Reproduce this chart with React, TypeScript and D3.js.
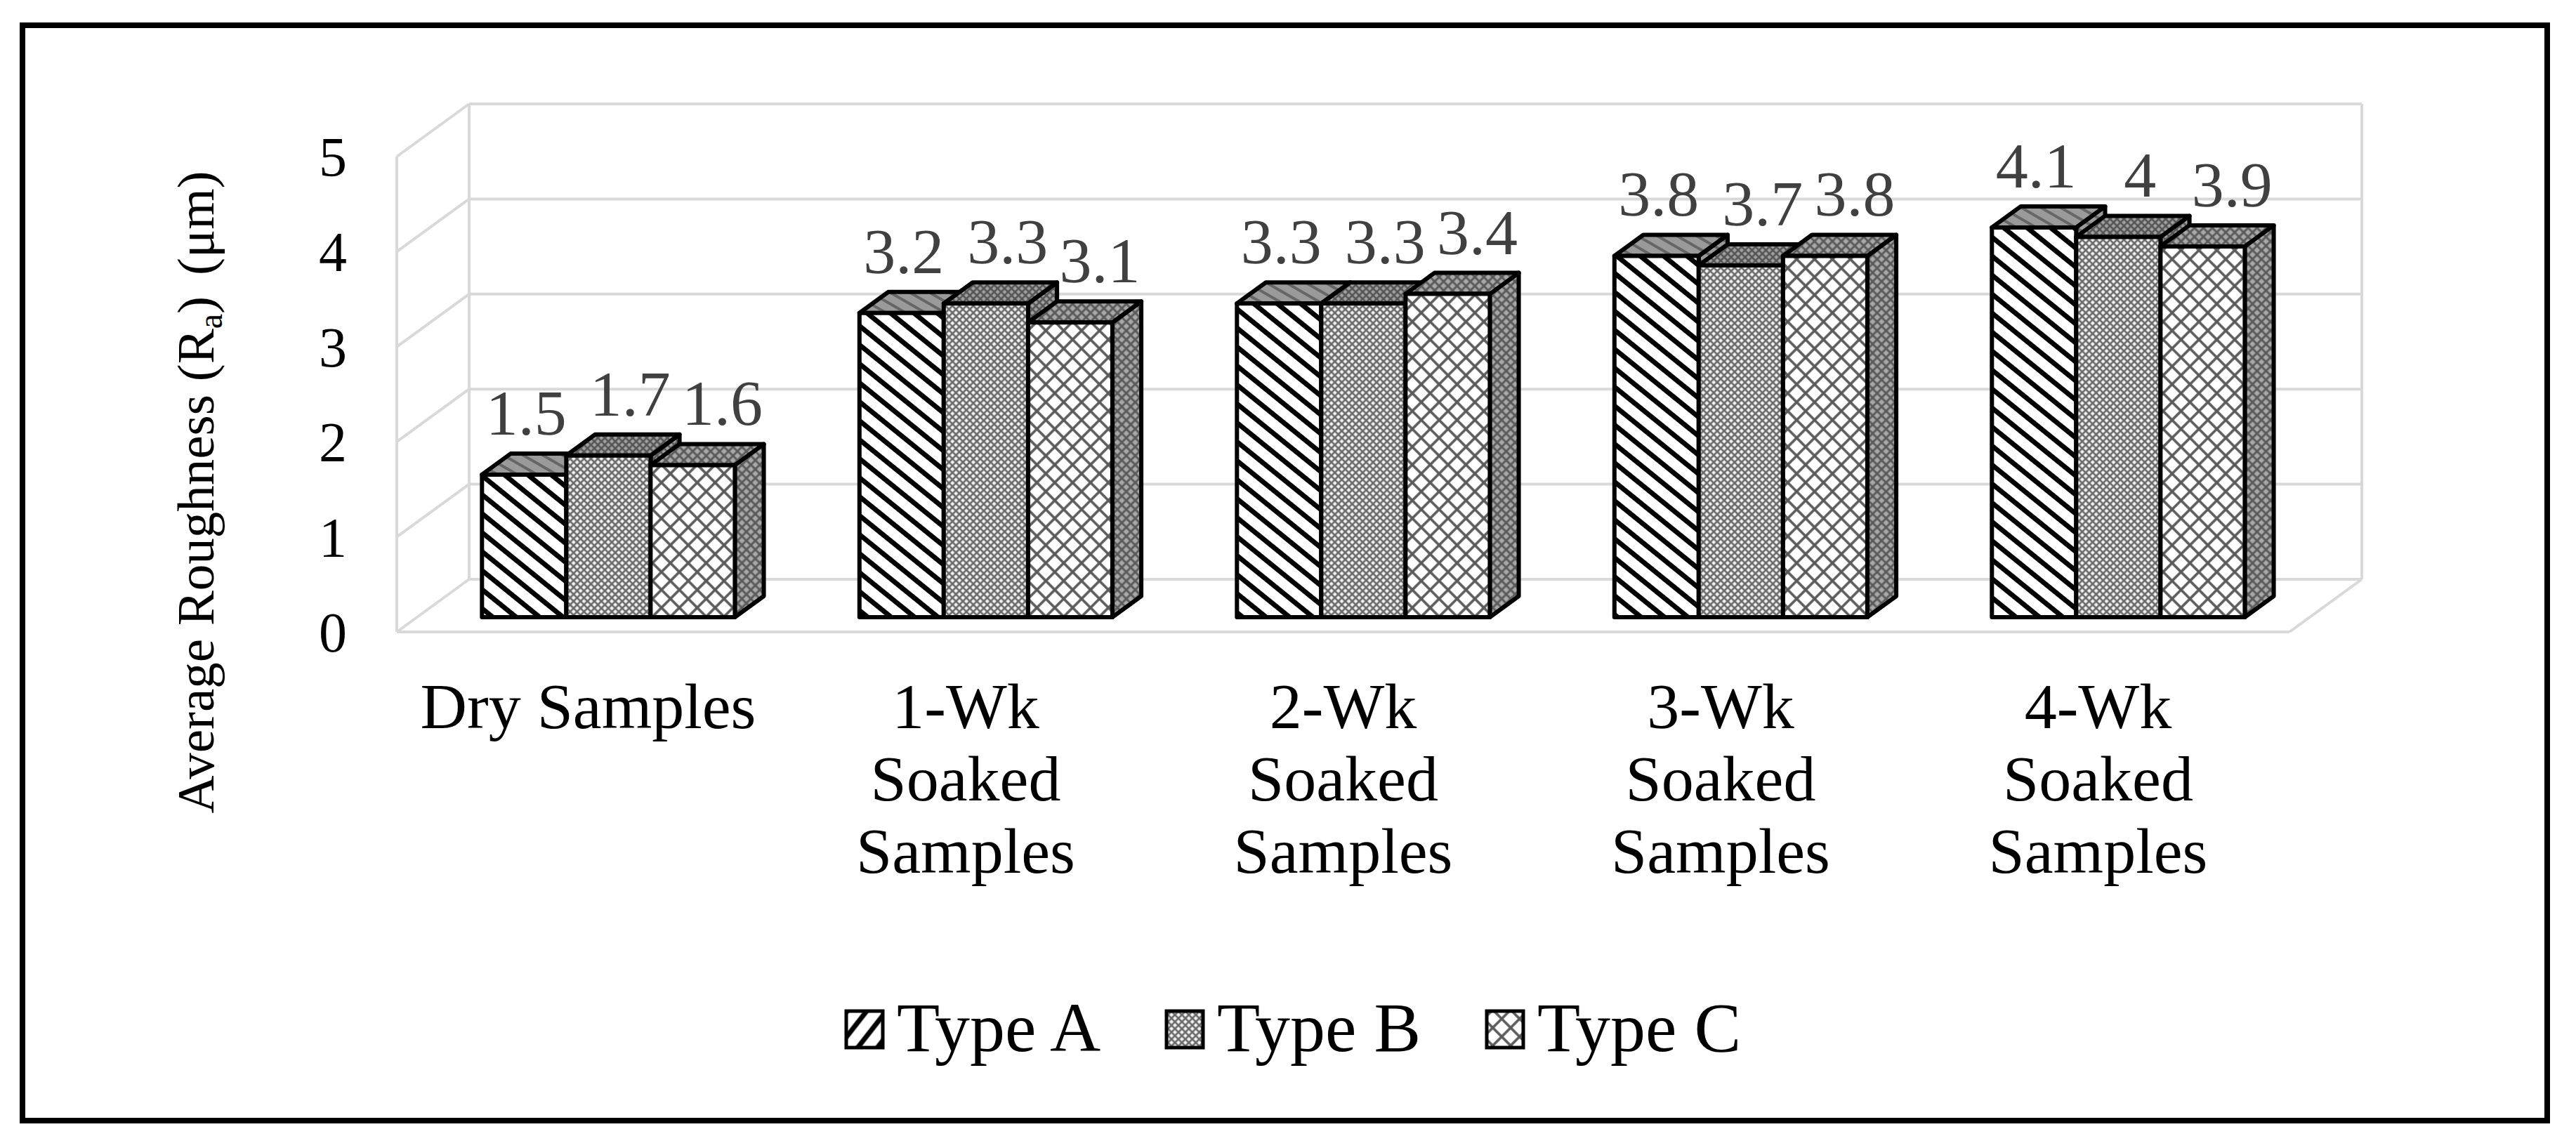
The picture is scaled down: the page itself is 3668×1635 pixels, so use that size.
import React from "react";
import * as d3 from "d3";

// ---------- data ----------
const categories = [
  "Dry Samples",
  "1-Wk Soaked Samples",
  "2-Wk Soaked Samples",
  "3-Wk Soaked Samples",
  "4-Wk Soaked Samples",
];
const categoryLines = [
  ["Dry Samples"],
  ["1-Wk", "Soaked", "Samples"],
  ["2-Wk", "Soaked", "Samples"],
  ["3-Wk", "Soaked", "Samples"],
  ["4-Wk", "Soaked", "Samples"],
];
const seriesNames = ["Type A", "Type B", "Type C"];
const typeA = [1.5, 3.2, 3.3, 3.8, 4.1];
const typeB = [1.7, 3.3, 3.3, 3.7, 4.0];
const typeC = [1.6, 3.1, 3.4, 3.8, 3.9];
const yTicks = [0, 1, 2, 3, 4, 5];
const yTitle = "Average Roughness";

const seriesValues = [typeA, typeB, typeC];

// ---------- layout ----------
const W = 3668;
const H = 1635;
const FONT = "'Liberation Serif', 'Times New Roman', Times, serif";
const X0 = 565; // front-left floor corner
const Y0 = 900;
const PLOT_W = 2695; // front floor width
const DX = 103; // depth offset (back is up-right)
const DY = 75;
const DF = 0.28; // bar front depth
const DB = 0.68; // bar back depth
const LABEL_DX = [3, 31, 42]; // Excel's per-series label drift

const yScale = d3.scaleLinear().domain([0, 5]).range([0, 677]);
const xBand = d3
  .scaleBand<string>()
  .domain(categories)
  .range([0, PLOT_W])
  .paddingInner(0.33)
  .paddingOuter(0.172);
const sBand = d3
  .scaleBand<string>()
  .domain(seriesNames)
  .range([0, xBand.bandwidth()])
  .padding(0);

const P = (x: number, v: number, d: number): [number, number] => [
  X0 + x + d * DX,
  Y0 - yScale(v) - d * DY,
];
const poly = (pts: [number, number][]) =>
  pts.map((p) => `${p[0].toFixed(1)},${p[1].toFixed(1)}`).join(" ");

const GRID = "#d9d9d9";

function latticePattern(id: string, size: number, bg: string, fg: string, sw: number) {
  return (
    <pattern
      key={id}
      id={id}
      patternUnits="userSpaceOnUse"
      width={size}
      height={size}
      patternTransform="rotate(45)"
    >
      <rect width={size} height={size} fill={bg} />
      <line x1={0} y1={0} x2={size} y2={0} stroke={fg} strokeWidth={sw} />
      <line x1={0} y1={size} x2={size} y2={size} stroke={fg} strokeWidth={sw} />
      <line x1={0} y1={0} x2={0} y2={size} stroke={fg} strokeWidth={sw} />
      <line x1={size} y1={0} x2={size} y2={size} stroke={fg} strokeWidth={sw} />
    </pattern>
  );
}

function stripePattern(id: string, angle: number, bg: string, fg: string, sw: number, size = 21) {
  return (
    <pattern
      key={id}
      id={id}
      patternUnits="userSpaceOnUse"
      width={size}
      height={size}
      patternTransform={`rotate(${angle})`}
    >
      <rect width={size} height={size} fill={bg} />
      <line x1={0} y1={size / 2} x2={size} y2={size / 2} stroke={fg} strokeWidth={sw} />
    </pattern>
  );
}

function Patterns() {
  return (
    <defs>
      {stripePattern("frontA", 39, "#ffffff", "#000000", 7)}
      {latticePattern("frontB", 7, "#f6f6f6", "#6a6a6a", 2.7)}
      {latticePattern("frontC", 18, "#ffffff", "#5a5a5a", 3.6)}
      {stripePattern("shadeA", 30, "#9a9a9a", "#666666", 4, 14)}
      {latticePattern("shadeB", 7, "#a4a4a4", "#555555", 2.7)}
      {latticePattern("shadeC", 9, "#a8a8a8", "#5a5a5a", 3)}
      {stripePattern("legA", -52, "#ffffff", "#000000", 7, 22)}
    </defs>
  );
}

export default function App() {
  const letters = ["A", "B", "C"];
  const bars: React.ReactNode[] = [];
  const labels: React.ReactNode[] = [];
  categories.forEach((cat, i) => {
    seriesNames.forEach((s, j) => {
      const v = seriesValues[j][i];
      const xL = (xBand(cat) as number) + (sBand(s) as number);
      const xR = xL + sBand.bandwidth();
      const front = [P(xL, 0, DF), P(xR, 0, DF), P(xR, v, DF), P(xL, v, DF)];
      const top = [P(xL, v, DF), P(xR, v, DF), P(xR, v, DB), P(xL, v, DB)];
      const side = [P(xR, 0, DF), P(xR, 0, DB), P(xR, v, DB), P(xR, v, DF)];
      const common = {
        stroke: "#000",
        strokeWidth: 6,
        strokeLinejoin: "round" as const,
      };
      bars.push(
        <g key={`${i}-${j}`}>
          <polygon points={poly(side)} fill={`url(#shade${letters[j]})`} {...common} />
          <polygon points={poly(top)} fill={`url(#shade${letters[j]})`} {...common} />
          <polygon points={poly(front)} fill={`url(#front${letters[j]})`} {...common} />
        </g>
      );
      const [lx, ly] = P((xL + xR) / 2, v, DF);
      labels.push(
        <text
          key={`l${i}-${j}`}
          x={lx + LABEL_DX[j]}
          y={ly - 57}
          textAnchor="middle"
          fontSize={92}
          fill="#404040"
          fontFamily={FONT}
        >
          {d3.format("")(v)}
        </text>
      );
    });
  });

  return (
    <svg
      width={W}
      height={H}
      viewBox={`0 0 ${W} ${H}`}
      style={{ position: "absolute", left: 0, top: 0, background: "#fff" }}
    >
      <Patterns />
      <rect x={0} y={0} width={W} height={H} fill="#fff" />
      <rect x={32} y={36} width={3595} height={1560} fill="none" stroke="#000" strokeWidth={8} />

      {/* walls and floor */}
      <g stroke={GRID} strokeWidth={4} fill="none">
        {yTicks.map((t) => (
          <g key={t}>
            <line x1={P(0, t, 1)[0]} y1={P(0, t, 1)[1]} x2={P(PLOT_W, t, 1)[0]} y2={P(PLOT_W, t, 1)[1]} />
            <line x1={P(0, t, 0)[0]} y1={P(0, t, 0)[1]} x2={P(0, t, 1)[0]} y2={P(0, t, 1)[1]} />
          </g>
        ))}
        <line x1={P(0, 0, 0)[0]} y1={P(0, 0, 0)[1]} x2={P(0, 5, 0)[0]} y2={P(0, 5, 0)[1]} />
        <line x1={P(0, 0, 1)[0]} y1={P(0, 0, 1)[1]} x2={P(0, 5, 1)[0]} y2={P(0, 5, 1)[1]} />
        <line x1={P(PLOT_W, 0, 1)[0]} y1={P(PLOT_W, 0, 1)[1]} x2={P(PLOT_W, 5, 1)[0]} y2={P(PLOT_W, 5, 1)[1]} />
        <line x1={P(0, 0, 0)[0]} y1={P(0, 0, 0)[1]} x2={P(PLOT_W, 0, 0)[0]} y2={P(PLOT_W, 0, 0)[1]} />
        <line x1={P(PLOT_W, 0, 0)[0]} y1={P(PLOT_W, 0, 0)[1]} x2={P(PLOT_W, 0, 1)[0]} y2={P(PLOT_W, 0, 1)[1]} />
      </g>

      {bars}
      {labels}

      {/* y tick labels */}
      {yTicks.map((t) => (
        <text
          key={`yt${t}`}
          x={474}
          y={P(0, t, 0)[1]}
          dy="0.35em"
          textAnchor="middle"
          fontSize={80}
          fontFamily={FONT}
          fill="#000"
        >
          {t}
        </text>
      ))}

      {/* y title */}
      <text
        transform="translate(304,701) rotate(-90)"
        textAnchor="middle"
        fontSize={75}
        fontFamily={FONT}
        fill="#000"
      >
        {yTitle} (R
        <tspan fontSize={48} dy={12}>a</tspan>
        <tspan dy={-12}>)</tspan>
        <tspan dx={30}>(μm)</tspan>
      </text>

      {/* category labels */}
      {categories.map((cat, i) => {
        const cx = X0 + (xBand(cat) as number) + xBand.bandwidth() / 2;
        return (
          <text key={cat} textAnchor="middle" fontSize={92} fontFamily={FONT} fill="#000">
            {categoryLines[i].map((ln, k) => (
              <tspan key={k} x={cx} y={1037 + k * 103}>
                {ln}
              </tspan>
            ))}
          </text>
        );
      })}

      {/* legend */}
      {seriesNames.map((s, j) => {
        const bx = 1205 + j * 456;
        return (
          <g key={s}>
            <rect
              x={bx}
              y={1440}
              width={52}
              height={52}
              fill={j === 0 ? "url(#legA)" : `url(#front${letters[j]})`}
              stroke="#000"
              strokeWidth={5}
            />
            <text x={bx + 72} y={1497} fontSize={100} fontFamily={FONT} fill="#000">
              {s}
            </text>
          </g>
        );
      })}
    </svg>
  );
}
